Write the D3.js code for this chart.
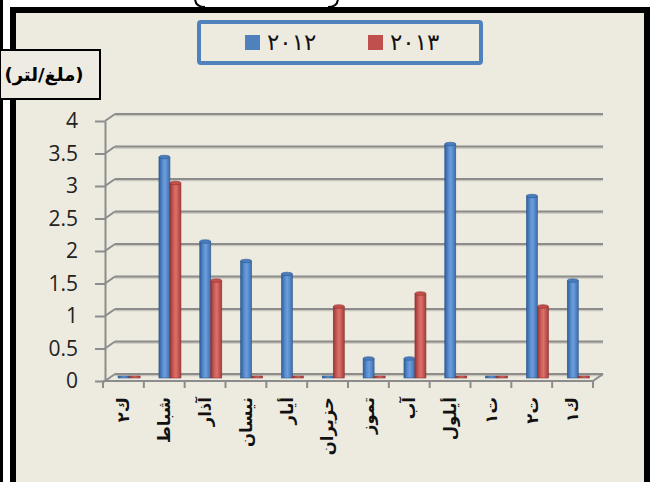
<!DOCTYPE html>
<html>
<head>
<meta charset="utf-8">
<script src="https://cdn.jsdelivr.net/npm/d3@7"></script>
<style>
  body { margin: 0; background: #fff; }
  svg { display: block; }
</style>
</head>
<body>
<div id="chart"></div>
<script>
// data
var months = ['ك٢', 'شباط', 'آذار', 'نيسان', 'أيار', 'حزيران', 'تموز', 'آب', 'أيلول', 'ت١', 'ت٢', 'ك١'];
var seriesNames = ['٢٠١٢', '٢٠١٣'];
var values2012 = [0, 3.4, 2.1, 1.8, 1.6, 0, 0.3, 0.3, 3.6, 0, 2.8, 1.5];
var values2013 = [0, 3.0, 1.5, 0, 0, 1.1, 0, 1.3, 0, 0, 1.1, 0];
var yTicks = [0, 0.5, 1, 1.5, 2, 2.5, 3, 3.5, 4];
var unitLabel = '(ملغ/لتر)';

var colors = ['#4F81BD', '#C0504D'];

var width = 658, height = 482;
var depth = {dx: 10, dy: -7};   // back wall offset (3d look)

var svg = d3.select("#chart")
  .append("svg")
    .attr("width", width)
    .attr("height", height);

var defs = svg.append("defs");
var gradStops = [
  ['#2F5E9A', '#5A8FD2', '#6C9EDC', '#3C6DAE'],
  ['#963632', '#D0605C', '#DC706C', '#A43E3A']
];
gradStops.forEach(function(st, i) {
  var g = defs.append("linearGradient").attr("id", "cyl" + i)
    .attr("x1", "0%").attr("x2", "100%").attr("y1", "0%").attr("y2", "0%");
  g.append("stop").attr("offset", "0%").attr("stop-color", st[0]);
  g.append("stop").attr("offset", "35%").attr("stop-color", st[1]);
  g.append("stop").attr("offset", "55%").attr("stop-color", st[2]);
  g.append("stop").attr("offset", "100%").attr("stop-color", st[3]);
});

// page decoration: left edge line and outer frame
svg.append("rect").attr("x", 0).attr("y", 0).attr("width", 3).attr("height", height).attr("fill", "#000");
svg.append("path")
  .attr("d", "M195,-2 Q195,7 205,7 M338,-2 Q338,7 328,7")
  .attr("fill", "none").attr("stroke", "#000").attr("stroke-width", 2);
svg.append("rect")
  .attr("x", 13).attr("y", 10)
  .attr("width", 634).attr("height", 490)
  .attr("fill", "#EDEAE0")
  .attr("stroke", "#000").attr("stroke-width", 6);

// scales
var x = d3.scaleBand()
  .domain(months)
  .range([103, 593]);

var xSub = d3.scaleBand()
  .domain(seriesNames)
  .range([x.bandwidth() * 0.37, x.bandwidth() * 0.37 + 22]);

var y = d3.scaleLinear()
  .domain([0, 4])
  .range([381, 121]);

// back gridlines and left wall diagonals
var grid = svg.append("g");
yTicks.forEach(function(t) {
  var yy = y(t) + depth.dy;
  grid.append("line")
    .attr("x1", 115).attr("x2", 603)
    .attr("y1", yy + 1.5).attr("y2", yy + 1.5)
    .attr("stroke", "#C9C6BC").attr("stroke-width", 1.5);
  grid.append("line")
    .attr("x1", 105 + depth.dx).attr("x2", 603)
    .attr("y1", yy).attr("y2", yy)
    .attr("stroke", "#8C8C8C").attr("stroke-width", 2);
  grid.append("line")
    .attr("x1", 105).attr("y1", y(t))
    .attr("x2", 105 + depth.dx).attr("y2", yy)
    .attr("stroke", "#8C8C8C").attr("stroke-width", 2);
});

// floor edges
svg.append("line")
  .attr("x1", 593).attr("y1", 381)
  .attr("x2", 603).attr("y2", 381 + depth.dy)
  .attr("stroke", "#8C8C8C").attr("stroke-width", 2);

// y axis
var yAxis = svg.append("g")
  .attr("transform", "translate(105,0)")
  .call(d3.axisLeft(y).tickValues(yTicks).tickSize(10).tickSizeOuter(0).tickPadding(17)
    .tickFormat(d3.format("")));
yAxis.select(".domain").attr("stroke", "#8C8C8C").attr("stroke-width", 2);
yAxis.selectAll(".tick line").attr("stroke", "#8C8C8C").attr("stroke-width", 2);
yAxis.selectAll(".tick text")
  .attr("fill", "#222")
  .style("font-family", "'Open Sans', sans-serif")
  .style("font-size", "21px");

// bars
var barData = [];
months.forEach(function(m, i) {
  barData.push({month: m, series: seriesNames[0], k: 0, value: values2012[i]});
  barData.push({month: m, series: seriesNames[1], k: 1, value: values2013[i]});
});

var bw = xSub.bandwidth();
var bars = svg.append("g")
  .attr("transform", "translate(0,-3)")
  .selectAll("g")
  .data(barData)
  .enter()
  .append("g");

bars.append("rect")
  .attr("x", function(d) { return x(d.month) + xSub(d.series); })
  .attr("y", function(d) { return d.value > 0 ? y(d.value) : y(0) - 2; })
  .attr("width", bw)
  .attr("height", function(d) { return d.value > 0 ? y(0) - y(d.value) : 2; })
  .attr("fill", function(d) { return "url(#cyl" + d.k + ")"; })
  .attr("stroke", function(d) { return d.k === 0 ? "#2E5A8E" : "#8E3330"; })
  .attr("stroke-width", 0.6);

bars.filter(function(d) { return d.value > 0; })
  .append("ellipse")
  .attr("cx", function(d) { return x(d.month) + xSub(d.series) + bw / 2; })
  .attr("cy", function(d) { return y(d.value); })
  .attr("rx", bw / 2)
  .attr("ry", 1.8)
  .attr("fill", function(d) { return d.k === 0 ? "#4A7CBF" : "#C4504C"; })
  .attr("stroke", function(d) { return d.k === 0 ? "#2E5A8E" : "#8E3330"; })
  .attr("stroke-width", 0.6);

// x axis (front floor line with ticks between months)
var xg = svg.append("g");
xg.append("line")
  .attr("x1", x.range()[0]).attr("x2", x.range()[1])
  .attr("y1", 381).attr("y2", 381)
  .attr("stroke", "#8C8C8C").attr("stroke-width", 2);
var bounds = months.map(function(m) { return x(m); }).concat([x.range()[1]]);
xg.selectAll(".xt")
  .data(bounds)
  .enter()
  .append("line")
  .attr("x1", function(d) { return d; }).attr("x2", function(d) { return d; })
  .attr("y1", 381).attr("y2", 388)
  .attr("stroke", "#8C8C8C").attr("stroke-width", 2);

xg.selectAll(".xl")
  .data(months)
  .enter()
  .append("text")
  .attr("transform", function(d) {
    return "translate(" + (x(d) + x.bandwidth() / 2) + ",397) rotate(-90)";
  })
  .attr("text-anchor", "end")
  .attr("dy", "0.35em")
  .style("font-family", "'DejaVu Sans', sans-serif")
  .style("font-size", "16.5px")
  .style("font-weight", "bold")
  .attr("fill", "#111")
  .text(function(d) { return d; });

// legend
var legend = svg.append("g");
legend.append("rect")
  .attr("x", 199).attr("y", 22)
  .attr("width", 282).attr("height", 41)
  .attr("rx", 2)
  .attr("fill", "#EDEAE0")
  .attr("stroke", "#4F81BD").attr("stroke-width", 4);
var legX = [245, 368];
seriesNames.forEach(function(s, i) {
  legend.append("rect")
    .attr("x", legX[i]).attr("y", 35)
    .attr("width", 15).attr("height", 15)
    .attr("fill", colors[i]);
  legend.append("text")
    .attr("x", legX[i] + 22).attr("y", 50)
    .style("font-family", "'DejaVu Sans', sans-serif")
    .style("font-size", "23px")
    .style("letter-spacing", "8px")
    .attr("fill", "#111")
    .text(s);
});

// unit box
svg.append("rect")
  .attr("x", 0).attr("y", 50)
  .attr("width", 100).attr("height", 49)
  .attr("fill", "#EEEBE2")
  .attr("stroke", "#000").attr("stroke-width", 2);
svg.append("text")
  .attr("x", 44).attr("y", 81)
  .attr("text-anchor", "middle")
  .style("font-family", "'DejaVu Sans', sans-serif")
  .style("font-size", "18px")
  .style("font-weight", "bold")
  .attr("fill", "#000")
  .text(unitLabel);
</script>
</body>
</html>
